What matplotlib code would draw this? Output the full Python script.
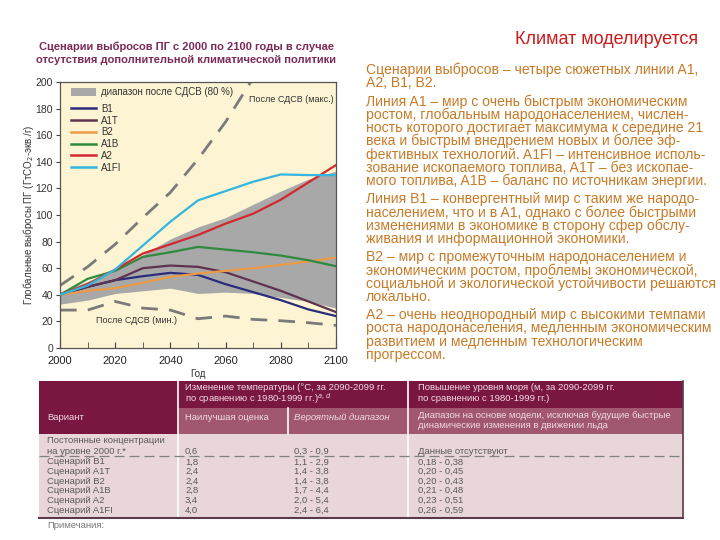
import matplotlib
matplotlib.use('Agg')
import matplotlib.pyplot as plt
from matplotlib.patches import Patch, Rectangle
from matplotlib.lines import Line2D

plt.rcParams['font.family'] = ['Liberation Sans', 'DejaVu Sans']

W, H = 720, 540

# --- data -------------------------------------------------------------------
years = [2000, 2010, 2020, 2030, 2040, 2050, 2060, 2070, 2080, 2090, 2100]

b1 = [40, 46, 51, 54, 56.5, 55, 48, 42, 36, 29, 24]
a1t = [40, 46, 51, 60, 62, 61, 57, 50, 43, 35, 27]
b2 = [40, 43, 45, 49, 53.5, 56, 58, 60, 62.5, 65, 68]
a1b = [40, 52, 58, 68.5, 72, 76, 74, 72, 69.5, 66, 61.5]
a2 = [40, 48, 59, 71, 78, 85, 93.5, 101, 111.5, 124.5, 137.5]
a1fi = [40, 47, 59, 77, 95, 111, 118, 125, 130.5, 130, 130]

band_low = [33, 36, 41, 43, 45, 41, 42, 41, 38, 35, 30]
band_high = [42, 50, 58, 70, 82, 91, 98, 108, 118, 127, 133]

max_years = [2000, 2010, 2020, 2030, 2040, 2050, 2060, 2070]
max_vals = [47, 61, 78, 98, 117, 142, 170, 203]
min_vals = [28.5, 28.5, 35, 30, 28.5, 22, 24, 21.5, 20.5, 19, 17]

series_names = ['B1', 'A1T', 'B2', 'A1B', 'A2', 'A1FI']
series_vals = [b1, a1t, b2, a1b, a2, a1fi]
series_colors = ['#2b2c7c', '#5e3350', '#eb9a45', '#2f8a3e', '#d2282e', '#33b5e0']

yticks = [0, 20, 40, 60, 80, 100, 120, 140, 160, 180, 200]
xticks = [2000, 2020, 2040, 2060, 2080, 2100]

# table contents
tbl_rows = ['Сценарий B1', 'Сценарий A1T', 'Сценарий B2',
            'Сценарий A1B', 'Сценарий A2', 'Сценарий A1FI']
tbl_best = ['1,8', '2,4', '2,4', '2,8', '3,4', '4,0']
tbl_likely = ['1,1 - 2,9', '1,4 - 3,8', '1,4 - 3,8', '1,7 - 4,4', '2,0 - 5,4', '2,4 - 6,4']
tbl_sea = ['0,18 - 0,38', '0,20 - 0,45', '0,20 - 0,43', '0,21 - 0,48', '0,23 - 0,51', '0,26 - 0,59']

paragraphs = [
    ['Сценарии выбросов – четыре сюжетных линии A1,',
     'A2, B1, B2.'],
    ['Линия A1 – мир с очень быстрым экономическим',
     'ростом, глобальным народонаселением, числен-',
     'ность которого достигает максимума к середине 21',
     'века и быстрым внедрением новых и более эф-',
     'фективных технологий. A1FI – интенсивное исполь-',
     'зование ископаемого топлива, A1T – без ископае-',
     'мого топлива, A1B – баланс по источникам энергии.'],
    ['Линия B1 – конвергентный мир с таким же народо-',
     'населением, что и в A1, однако с более быстрыми',
     'изменениями в экономике в сторону сфер обслу-',
     'живания и информационной экономики.'],
    ['B2 – мир с промежуточным народонаселением и',
     'экономическим ростом, проблемы экономической,',
     'социальной и экологической устойчивости решаются',
     'локально.'],
    ['A2 – очень неоднородный мир с высокими темпами',
     'роста народонаселения, медленным экономическим',
     'развитием и медленным технологическим',
     'прогрессом.'],
]


def fx(x):
    return x / W


def fy(y):
    return 1 - y / H


fig = plt.figure(figsize=(7.2, 5.4), dpi=100)
fig.patch.set_facecolor('white')

# --- chart ------------------------------------------------------------------
ax = fig.add_axes([fx(60), fy(348), 276 / W, 266 / H])
ax.set_facecolor('#fcf4d2')

ax.fill_between(years, band_low, band_high, color='#a8a8a8', lw=0, zorder=1)
ax.plot(max_years, max_vals, color='#7a7a7a', lw=2, dashes=(6, 4), zorder=2)
ax.plot(years, min_vals, color='#7a7a7a', lw=2, dashes=(6, 4), zorder=2)

for name, vals, col in zip(series_names, series_vals, series_colors):
    ax.plot(years, vals, color=col, lw=1.6, zorder=3)

ax.set_xlim(2000, 2100)
ax.set_ylim(0, 200)
ax.set_xticks(xticks)
ax.set_xticks(range(2000, 2101, 10), minor=True)
ax.set_yticks(yticks)
ax.tick_params(axis='x', which='both', direction='in', length=4, color='#444',
               labelsize=8, pad=6, labelcolor='#222')
ax.tick_params(axis='y', direction='out', length=3, color='#444',
               labelsize=7.5, labelcolor='#333', pad=2)
for s in ax.spines.values():
    s.set_color('#555')
    s.set_linewidth(0.9)

ax.set_xlabel('Год', fontsize=7, color='#333', labelpad=2)
ax.set_ylabel('Глобальные выбросы ПГ (ГтСО$_2$-экв./г)', fontsize=7,
              color='#333', labelpad=0)

# legend: band patch on its own row, then the scenario lines
leg1 = ax.legend([Patch(facecolor='#a8a8a8', edgecolor='none')],
                 ['диапазон после СДСВ (80 %)'], loc='upper left',
                 bbox_to_anchor=(0.04, 0.98), frameon=False, fontsize=7,
                 handlelength=2.6, handleheight=0.9, handletextpad=0.5,
                 borderpad=0, borderaxespad=0)
for t in leg1.get_texts():
    t.set_color('#333')
ax.add_artist(leg1)

line_handles = [Line2D([], [], color=c, lw=1.8) for c in series_colors]
leg2 = ax.legend(line_handles, series_names, loc='upper left',
                 bbox_to_anchor=(0.04, 0.918), frameon=False, fontsize=7,
                 handlelength=2.6, handletextpad=0.5, labelspacing=0.18,
                 borderpad=0, borderaxespad=0)
for t in leg2.get_texts():
    t.set_color('#333')

ax.text(2068.5, 187, 'После СДСВ (макс.)', fontsize=6.5, color='#333', va='center')
ax.text(2013, 21, 'После СДСВ (мин.)', fontsize=6.5, color='#333', va='center')

fig.text(fx(186), fy(47), 'Сценарии выбросов ПГ с 2000 по 2100 годы в случае',
         ha='center', va='center', fontsize=8, fontweight='bold', color='#7c2a58')
fig.text(fx(186), fy(60), 'отсутствия дополнительной климатической политики',
         ha='center', va='center', fontsize=8, fontweight='bold', color='#7c2a58')

# --- right text -------------------------------------------------------------
fig.text(fx(698), fy(40), 'Климат моделируется', ha='right', va='center',
         fontsize=13, color='#cc1a1a')

y = 70
for para in paragraphs:
    for line in para:
        fig.text(fx(366), fy(y), line, ha='left', va='center', fontsize=10.1,
                 color='#c77a26')
        y += 13.3
    y += 4.7

# --- table ------------------------------------------------------------------
tx0, tx1 = 39, 683
ty0, ty_sub, ty_body, ty1 = 381, 408, 434, 518
c1, c2, c3 = 178, 288, 408
dark = '#7a1741'
mid = '#a0576f'
light = '#e9d6da'


def rect(x0, y0, x1, y1, color):
    fig.patches.append(Rectangle((fx(x0), fy(y1)), (x1 - x0) / W, (y1 - y0) / H,
                                 transform=fig.transFigure, facecolor=color,
                                 edgecolor='none', zorder=0))


def vline(x, y0, y1, color='white', lw=1.2, ls='-'):
    fig.add_artist(Line2D([fx(x), fx(x)], [fy(y0), fy(y1)], color=color, lw=lw,
                          ls=ls, transform=fig.transFigure))


def hline(x0, x1, y, color='white', lw=1.2, ls='-'):
    fig.add_artist(Line2D([fx(x0), fx(x1)], [fy(y), fy(y)], color=color, lw=lw,
                          ls=ls, transform=fig.transFigure))


rect(tx0, ty0, tx1, ty_sub, dark)
rect(tx0, ty_sub, c1, ty_body, dark)
rect(c1, ty_sub, tx1, ty_body, mid)
rect(tx0, ty_body, tx1, ty1, light)

vline(c1, ty0, ty1)
vline(c3, ty0, ty1)
vline(c2, ty_sub, ty_body)
hline(tx0, tx1, ty1, color='#5a3a48', lw=1.5)
vline(tx1, ty0, ty1, color='#5a3a48', lw=1.2)
hline(tx0, tx1, 455.5, color='#808080', lw=0.9, ls=(0, (8, 4)))

hdr = '#f1dbe3'
fs = 6.8
fig.text(fx(185), fy(388), 'Изменение температуры (°С, за 2090-2099 гг.',
         fontsize=fs, color=hdr, va='center')
fig.text(fx(185), fy(398.5), 'по сравнению с 1980-1999 гг.)$^{a,d}$',
         fontsize=fs, color=hdr, va='center')
fig.text(fx(418), fy(388), 'Повышение уровня моря (м, за 2090-2099 гг.',
         fontsize=fs, color=hdr, va='center')
fig.text(fx(418), fy(398.5), 'по сравнению с 1980-1999 гг.)',
         fontsize=fs, color=hdr, va='center')
fig.text(fx(47), fy(417), 'Вариант', fontsize=fs, color=hdr, va='center')
fig.text(fx(185), fy(417), 'Наилучшая оценка', fontsize=fs, color=hdr, va='center')
fig.text(fx(294), fy(417), 'Вероятный диапазон', fontsize=fs, color=hdr,
         va='center', style='italic')
fig.text(fx(418), fy(416), 'Диапазон на основе модели, исключая будущие быстрые',
         fontsize=fs, color=hdr, va='center')
fig.text(fx(418), fy(426), 'динамические изменения в движении льда',
         fontsize=fs, color=hdr, va='center')

body = '#5a5a5a'
fig.text(fx(47), fy(440.5), 'Постоянные концентрации', fontsize=fs, color=body, va='center')
fig.text(fx(47), fy(451), 'на уровне 2000 г.*', fontsize=fs, color=body, va='center')
fig.text(fx(185), fy(451), '0,6', fontsize=fs, color=body, va='center')
fig.text(fx(294), fy(451), '0,3 - 0,9', fontsize=fs, color=body, va='center')
fig.text(fx(418), fy(451), 'Данные отсутствуют', fontsize=fs, color=body, va='center')

ry = 462
for name, best, likely, sea in zip(tbl_rows, tbl_best, tbl_likely, tbl_sea):
    fig.text(fx(47), fy(ry), name, fontsize=fs, color=body, va='center')
    fig.text(fx(185), fy(ry), best, fontsize=fs, color=body, va='center')
    fig.text(fx(294), fy(ry), likely, fontsize=fs, color=body, va='center')
    fig.text(fx(418), fy(ry), sea, fontsize=fs, color=body, va='center')
    ry += 9.6

fig.text(fx(47), fy(526), 'Примечания:', fontsize=fs, color='#777', va='center')

fig.savefig('out.png', dpi=100)
